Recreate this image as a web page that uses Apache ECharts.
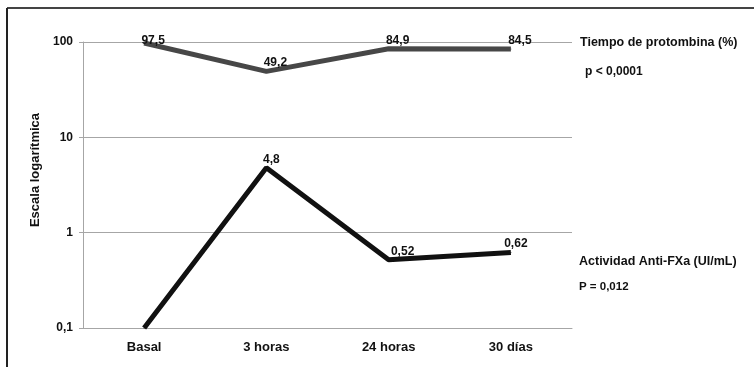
<!DOCTYPE html>
<html>
<head>
<meta charset="utf-8">
<script src="https://cdn.jsdelivr.net/npm/echarts@6/dist/echarts.min.js"></script>
<style>
  html, body { margin: 0; padding: 0; background: #fff; }
  #chart { width: 754px; height: 367px; }
</style>
</head>
<body>
<div id="chart"></div>
<script>
// Time points of the study
const categories = ['Basal', '3 horas', '24 horas', '30 días'];
// Prothrombin time (%)
const tiempoProtrombina = [97.5, 49.2, 84.9, 84.5];
// Anti-FXa activity (UI/mL); basal sits at the bottom of the scale
const actividadAntiFXa = [0.1, 4.8, 0.52, 0.62];
// Log-axis tick labels
const yTickLabels = { 0.1: '0,1', 1: '1', 10: '10', 100: '100' };

const FONT = '"Liberation Sans", Arial, sans-serif';
const comma = v => String(v).replace('.', ',');

const chart = echarts.init(document.getElementById('chart'), null, { renderer: 'canvas' });

const labelStyle = {
  show: true,
  position: 'top',
  distance: 2,
  color: '#111',
  fontFamily: FONT,
  fontWeight: 'bold',
  fontSize: 12
};

// per-point label nudges so the labels sit clear of the lines
const protrombinaLabelOffsets = { 0: [9, 6] };
const antiFXaLabelOffsets = { 2: [14, 0] };
const withOffsets = (values, offsets) =>
  values.map((v, i) => (offsets[i] ? { value: v, label: { offset: offsets[i] } } : v));

chart.setOption({
  animation: false,
  backgroundColor: '#fff',
  grid: { left: 83, right: 182, top: 42, bottom: 39, containLabel: false },
  xAxis: {
    type: 'category',
    data: categories,
    boundaryGap: true,
    axisLine: { lineStyle: { color: '#a6a6a6', width: 1 } },
    axisTick: { show: false },
    axisLabel: { color: '#111', fontFamily: FONT, fontWeight: 'bold', fontSize: 13, margin: 13 }
  },
  yAxis: {
    type: 'log',
    logBase: 10,
    min: 0.1,
    max: 100,
    axisLine: { show: true, lineStyle: { color: '#a6a6a6', width: 1 } },
    axisTick: { show: true, length: 4, lineStyle: { color: '#a6a6a6' } },
    splitLine: { show: true, lineStyle: { color: '#a6a6a6', width: 1 } },
    axisLabel: {
      color: '#111', fontFamily: FONT, fontWeight: 'bold', fontSize: 12, margin: 10,
      formatter: v => yTickLabels[+v.toPrecision(3)] !== undefined ? yTickLabels[+v.toPrecision(3)] : comma(v)
    }
  },
  series: [
    {
      name: 'Tiempo de protombina (%)',
      type: 'line',
      data: withOffsets(tiempoProtrombina, protrombinaLabelOffsets),
      symbol: 'circle',
      symbolSize: 1,
      showSymbol: true,
      itemStyle: { color: '#474747' },
      lineStyle: { color: '#474747', width: 5 },
      label: Object.assign({}, labelStyle, { offset: [9, 0], formatter: p => comma(p.value) })
    },
    {
      name: 'Actividad Anti-FXa (UI/mL)',
      type: 'line',
      data: withOffsets(actividadAntiFXa, antiFXaLabelOffsets),
      symbol: 'circle',
      symbolSize: 1,
      showSymbol: true,
      itemStyle: { color: '#111' },
      lineStyle: { color: '#111', width: 5 },
      label: Object.assign({}, labelStyle, {
        offset: [5, 0],
        formatter: p => (p.dataIndex === 0 ? '' : comma(p.value))
      })
    }
  ],
  graphic: [
    // frame lines
    { type: 'line', shape: { x1: 7, y1: 8, x2: 754, y2: 8 }, style: { stroke: '#444', lineWidth: 2 } },
    { type: 'line', shape: { x1: 7, y1: 8, x2: 7, y2: 367 }, style: { stroke: '#222', lineWidth: 2 } },
    // axis title
    {
      type: 'text', x: 35, y: 170, rotation: Math.PI / 2,
      style: { text: 'Escala logarítmica', fontFamily: FONT, fontWeight: 'bold', fontSize: 13,
               fill: '#111', textAlign: 'center', textVerticalAlign: 'middle' }
    },
    // series annotations
    { type: 'text', x: 580, y: 43,
      style: { text: 'Tiempo de protombina (%)', fontFamily: FONT, fontWeight: 'bold', fontSize: 12.5, fill: '#111', textVerticalAlign: 'middle' } },
    { type: 'text', x: 585, y: 72,
      style: { text: 'p < 0,0001', fontFamily: FONT, fontWeight: 'bold', fontSize: 12, fill: '#111', textVerticalAlign: 'middle' } },
    { type: 'text', x: 579, y: 262,
      style: { text: 'Actividad Anti-FXa (UI/mL)', fontFamily: FONT, fontWeight: 'bold', fontSize: 12.5, fill: '#111', textVerticalAlign: 'middle' } },
    { type: 'text', x: 579, y: 287,
      style: { text: 'P = 0,012', fontFamily: FONT, fontWeight: 'bold', fontSize: 11.5, fill: '#111', textVerticalAlign: 'middle' } }
  ]
});
</script>
</body>
</html>
